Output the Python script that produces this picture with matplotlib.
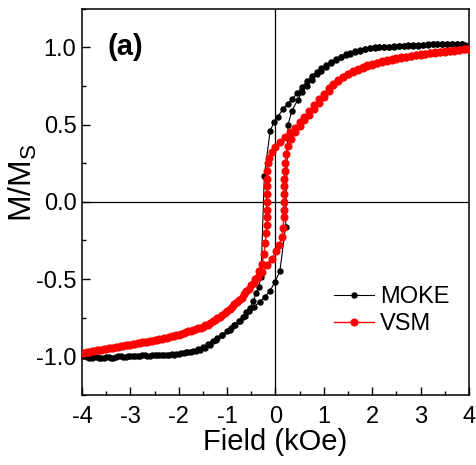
import matplotlib
matplotlib.use('Agg')
import matplotlib.pyplot as plt
from matplotlib.ticker import MultipleLocator

plt.rcParams['font.family'] = ['Liberation Sans', 'DejaVu Sans']
plt.rcParams['axes.unicode_minus'] = False

# %% MOKE loop, field going down (+4 -> -4)
moke_down_h = [3.85, 3.75, 3.65, 3.55, 3.45, 3.35, 3.25, 3.15, 3.05, 2.95,
               2.85, 2.75, 2.65, 2.55, 2.45, 2.35, 2.25, 2.15, 2.05, 1.95,
               1.85, 1.75, 1.65, 1.55, 1.45, 1.35, 1.25, 1.15, 1.05, 0.95,
               0.85, 0.75, 0.65, 0.55, 0.45, 0.35, 0.25, 0.15, 0.05, -0.03,
               -0.11, -0.23, -0.30, -0.35, -0.40, -0.46, -0.53, -0.60, -0.68, -0.76,
               -0.84, -0.92, -1.0, -1.1, -1.2, -1.3, -1.4, -1.5, -1.6, -1.7,
               -1.8, -1.9, -2.0, -2.1, -2.2, -2.3, -2.4, -2.5, -2.6, -2.7,
               -2.8, -2.9, -3.0, -3.1, -3.2, -3.3, -3.4, -3.5, -3.6, -3.7,
               -3.8, -3.9, -4.0]
moke_down_m = [1.02, 1.02, 1.025, 1.02, 1.02, 1.02, 1.02, 1.015, 1.015, 1.01,
               1.015, 1.01, 1.01, 1.01, 1.005, 1.005, 1.0, 1.0, 0.995, 0.995,
               0.99, 0.985, 0.975, 0.965, 0.955, 0.94, 0.925, 0.905, 0.885, 0.865,
               0.84, 0.815, 0.78, 0.745, 0.705, 0.665, 0.635, 0.60, 0.55, 0.515,
               0.46, 0.17, -0.49, -0.55, -0.59, -0.645, -0.685, -0.715, -0.745, -0.775,
               -0.80, -0.82, -0.84, -0.86, -0.88, -0.90, -0.92, -0.94, -0.955, -0.965,
               -0.975, -0.98, -0.985, -0.99, -0.99, -0.99, -0.995, -0.995, -1.0, -0.995,
               -1.0, -1.0, -1.0, -1.005, -1.0, -1.005, -1.01, -1.005, -1.01, -1.005,
               -1.01, -1.005, -1.0]

# MOKE loop, field going up (-4 -> +4)
moke_up_h = [-3.95, -3.85, -3.75, -3.65, -3.55, -3.45, -3.35, -3.25, -3.15, -3.05,
             -2.95, -2.85, -2.75, -2.65, -2.55, -2.45, -2.35, -2.25, -2.15, -2.05,
             -1.95, -1.85, -1.75, -1.65, -1.56, -1.45, -1.35, -1.23, -1.1, -0.95,
             -0.85, -0.74, -0.64, -0.54, -0.44, -0.33, -0.22, -0.12, -0.01, 0.09,
             0.21, 0.26, 0.34, 0.46, 0.55, 0.65, 0.75, 0.85, 0.95, 1.05,
             1.15, 1.25, 1.35, 1.45, 1.55, 1.65, 1.75, 1.85, 1.95, 2.05,
             2.15, 2.25, 2.35, 2.45, 2.55, 2.65, 2.75, 2.85, 2.95, 3.05,
             3.15, 3.25, 3.35, 3.45, 3.55, 3.65, 3.75, 3.85, 3.92]
moke_up_m = [-1.0, -1.01, -1.005, -1.01, -1.01, -1.005, -1.01, -1.0, -1.005, -1.0,
             -1.0, -1.0, -0.995, -1.0, -0.995, -0.99, -0.99, -0.99, -0.985, -0.985,
             -0.98, -0.975, -0.97, -0.965, -0.96, -0.945, -0.925, -0.895, -0.865, -0.83,
             -0.80, -0.77, -0.74, -0.71, -0.68, -0.65, -0.615, -0.58, -0.52, -0.45,
             -0.16, 0.50, 0.59, 0.66, 0.71, 0.75, 0.79, 0.825, 0.85, 0.875,
             0.90, 0.92, 0.935, 0.95, 0.96, 0.97, 0.98, 0.99, 0.995, 1.0,
             1.0, 1.005, 1.005, 1.01, 1.01, 1.01, 1.015, 1.01, 1.015, 1.015,
             1.02, 1.02, 1.02, 1.02, 1.025, 1.02, 1.02, 1.02, 1.015]

# %% VSM loop, field going down
vsm_down_h = [4.0, 3.9, 3.8, 3.7, 3.6, 3.5, 3.4, 3.3, 3.2, 3.1,
              3.0, 2.9, 2.8, 2.7, 2.6, 2.5, 2.4, 2.3, 2.2, 2.1,
              2.0, 1.9, 1.8, 1.7, 1.6, 1.5, 1.4, 1.3, 1.2, 1.1,
              1.0, 0.9, 0.8, 0.7, 0.6, 0.5, 0.4, 0.3, 0.2, 0.1,
              0.0, -0.08, -0.13, -0.16, -0.17, -0.18, -0.18, -0.18, -0.18, -0.18,
              -0.18, -0.18, -0.19, -0.21, -0.24, -0.28, -0.34, -0.42, -0.5, -0.6,
              -0.7, -0.8, -0.9, -1.0, -1.1, -1.2, -1.3, -1.4, -1.5, -1.6,
              -1.7, -1.8, -1.9, -2.0, -2.1, -2.2, -2.3, -2.4, -2.5, -2.6,
              -2.7, -2.8, -2.9, -3.0, -3.1, -3.2, -3.3, -3.4, -3.5, -3.6,
              -3.7, -3.8, -3.9, -4.0]
vsm_down_m = [0.99, 0.987, 0.984, 0.98, 0.977, 0.973, 0.97, 0.966, 0.962, 0.958,
              0.953, 0.948, 0.943, 0.938, 0.932, 0.926, 0.92, 0.913, 0.905, 0.897,
              0.888, 0.878, 0.867, 0.855, 0.842, 0.827, 0.81, 0.79, 0.765, 0.735,
              0.70, 0.665, 0.625, 0.585, 0.55, 0.515, 0.48, 0.45, 0.42, 0.39,
              0.355, 0.32, 0.285, 0.25, 0.20, 0.15, 0.10, 0.05, 0.0, -0.05,
              -0.10, -0.15, -0.20, -0.27, -0.34, -0.40, -0.45, -0.50, -0.54, -0.58,
              -0.62, -0.65, -0.68, -0.705, -0.73, -0.755, -0.775, -0.795, -0.81, -0.82,
              -0.83, -0.84, -0.85, -0.86, -0.867, -0.875, -0.882, -0.89, -0.896, -0.902,
              -0.908, -0.914, -0.92, -0.925, -0.93, -0.936, -0.942, -0.947, -0.952, -0.957,
              -0.962, -0.968, -0.974, -0.98]

# VSM loop, field going up
vsm_up_h = [-3.95, -3.85, -3.75, -3.65, -3.55, -3.45, -3.35, -3.25, -3.15, -3.05,
            -2.95, -2.85, -2.75, -2.65, -2.55, -2.45, -2.35, -2.25, -2.15, -2.05,
            -1.95, -1.85, -1.75, -1.65, -1.55, -1.45, -1.35, -1.25, -1.15, -1.05,
            -0.95, -0.85, -0.75, -0.65, -0.55, -0.45, -0.36, -0.27, -0.18, -0.08,
            0.02, 0.08, 0.13, 0.16, 0.17, 0.17, 0.17, 0.17, 0.18, 0.18,
            0.19, 0.20, 0.22, 0.26, 0.32, 0.4, 0.5, 0.6, 0.7, 0.8,
            0.9, 1.0, 1.1, 1.2, 1.3, 1.4, 1.5, 1.6, 1.7, 1.8,
            1.9, 2.0, 2.1, 2.2, 2.3, 2.4, 2.5, 2.6, 2.7, 2.8,
            2.9, 3.0, 3.1, 3.2, 3.3, 3.4, 3.5, 3.6, 3.7, 3.8,
            3.9, 3.97]
vsm_up_m = [-0.977, -0.971, -0.965, -0.96, -0.955, -0.95, -0.944, -0.939, -0.934, -0.928,
            -0.922, -0.917, -0.911, -0.905, -0.899, -0.893, -0.886, -0.879, -0.871, -0.864,
            -0.855, -0.845, -0.835, -0.825, -0.815, -0.80, -0.785, -0.765, -0.745, -0.72,
            -0.695, -0.665, -0.635, -0.60, -0.565, -0.525, -0.49, -0.455, -0.41, -0.37,
            -0.32, -0.28, -0.23, -0.17, -0.10, -0.05, 0.0, 0.05, 0.10, 0.15,
            0.20, 0.25, 0.31, 0.36, 0.41, 0.45, 0.49, 0.53, 0.565, 0.60,
            0.64, 0.68, 0.715, 0.755, 0.785, 0.81, 0.83, 0.848, 0.861, 0.872,
            0.883, 0.893, 0.901, 0.909, 0.916, 0.923, 0.929, 0.935, 0.94, 0.945,
            0.95, 0.955, 0.96, 0.964, 0.968, 0.972, 0.975, 0.979, 0.982, 0.985,
            0.988, 0.99]

# %%
fig = plt.figure(figsize=(4.77, 4.65), dpi=100)
ax = fig.add_axes([0.172, 0.151, 0.811, 0.830])

ax.axhline(0, color='black', linewidth=0.9, zorder=1)
ax.axvline(0, color='black', linewidth=0.9, zorder=1)

ax.plot(moke_down_h + moke_up_h, moke_down_m + moke_up_m, color='black',
        marker='o', markersize=3.6, linewidth=0.8, label='MOKE', zorder=2)
ax.plot(vsm_down_h + vsm_up_h, vsm_down_m + vsm_up_m, color='red',
        marker='o', markersize=4.8, linewidth=1.0, label='VSM', zorder=3)

ax.set_xlim(-4, 4)
ax.set_ylim(-1.25, 1.25)
ax.xaxis.set_major_locator(MultipleLocator(1))
ax.xaxis.set_minor_locator(MultipleLocator(0.5))
ax.yaxis.set_major_locator(MultipleLocator(0.5))
ax.yaxis.set_minor_locator(MultipleLocator(0.25))
ax.yaxis.set_major_formatter(matplotlib.ticker.FormatStrFormatter('%.1f'))
ax.tick_params(which='both', direction='in', labelsize=17, width=1.0)
ax.tick_params(which='major', length=6)
ax.tick_params(which='minor', length=3)
ax.tick_params(axis='x', which='major', pad=8)
ax.tick_params(axis='y', which='major', pad=4)
for sp in ax.spines.values():
    sp.set_linewidth(1.1)

ax.set_xlabel('Field (kOe)', fontsize=21, labelpad=0)
ax.set_ylabel('M/M$_\\mathregular{S}$', fontsize=23)
ax.yaxis.set_label_coords(-0.11, 0.55)
ax.text(0.065, 0.88, '(a)', transform=ax.transAxes, fontsize=21,
        fontweight='bold', va='baseline')

ax.legend(loc='center left', bbox_to_anchor=(0.62, 0.218), frameon=False,
          fontsize=17, handlelength=1.7, handletextpad=0.25,
          labelspacing=0.2, borderpad=0)

fig.savefig('out.png', dpi=100)
